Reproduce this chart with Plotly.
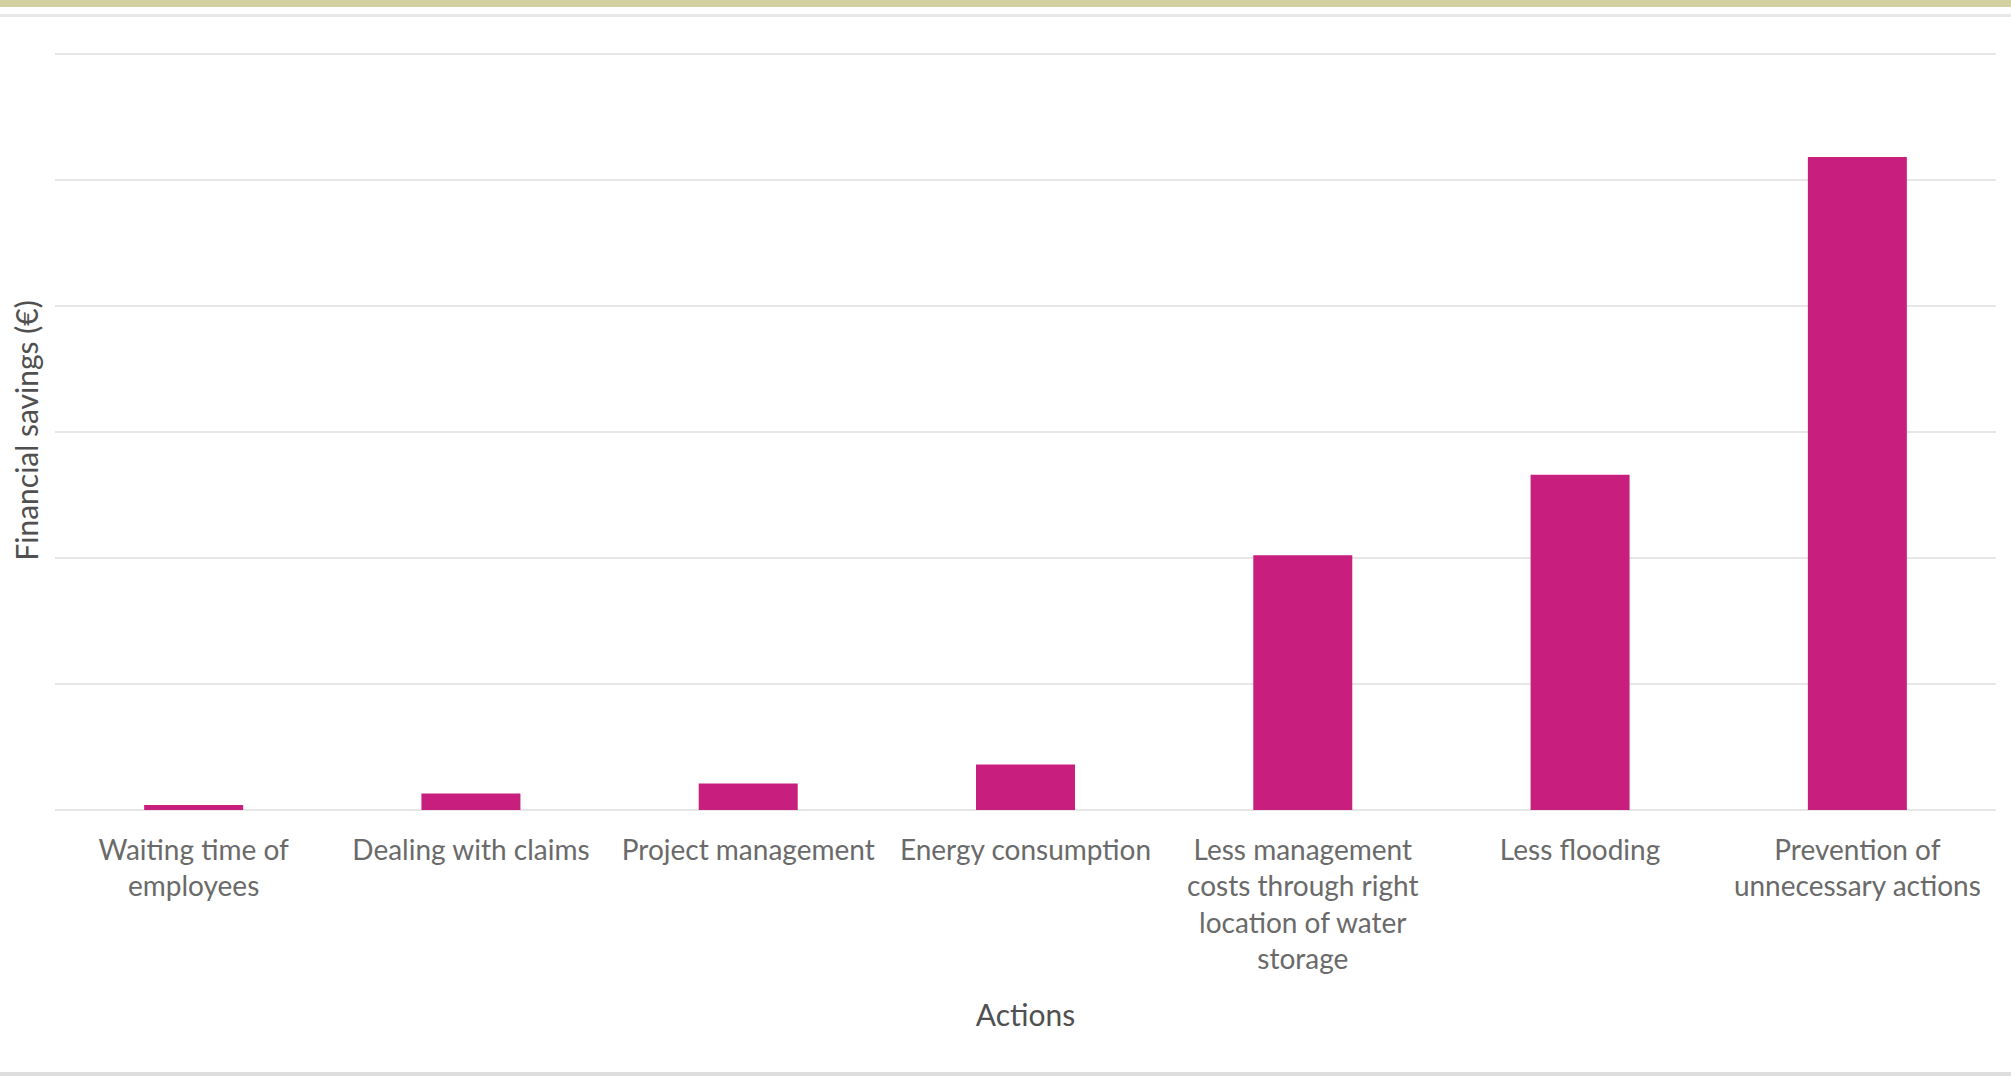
import plotly.graph_objects as go

categories = [
    "Waiting time of<br>employees",
    "Dealing with claims",
    "Project management",
    "Energy consumption",
    "Less management<br>costs through right<br>location of water<br>storage",
    "Less flooding",
    "Prevention of<br>unnecessary actions",
]
savings = [0.04, 0.13, 0.21, 0.36, 2.02, 2.66, 5.18]
grid_levels = [0, 1, 2, 3, 4, 5, 6]

W, H = 2011, 1078
L, R, T, B = 55, 15, 51, 268
pw, ph = W - L - R, H - T - B

def px_x(x):
    return (x - L) / pw

def px_y(y):
    return (H - B - y) / ph

FONT = "Lato, 'Liberation Sans Narrow', sans-serif"

fig = go.Figure(go.Bar(
    x=categories, y=savings,
    marker=dict(color="#C81E7E", line=dict(width=0)),
))

fig.update_layout(
    width=W, height=H,
    margin=dict(l=L, r=R, t=T, b=B, autoexpand=False),
    paper_bgcolor="white", plot_bgcolor="white",
    bargap=0.643,
    showlegend=False,
    font=dict(family=FONT, color="#595959", size=28),
    shapes=[
        dict(type="rect", xref="paper", yref="paper", x0=px_x(0), x1=px_x(W),
             y0=px_y(0), y1=px_y(7), fillcolor="#D3D0A0", line=dict(width=0), layer="above"),
        dict(type="rect", xref="paper", yref="paper", x0=px_x(0), x1=px_x(W),
             y0=px_y(14), y1=px_y(17), fillcolor="#E8E8E8", line=dict(width=0), layer="above"),
        dict(type="rect", xref="paper", yref="paper", x0=px_x(0), x1=px_x(W),
             y0=px_y(1072), y1=px_y(1076), fillcolor="#DEDEDE", line=dict(width=0), layer="above"),
    ],
)

fig.update_xaxes(
    showline=False, showgrid=False, ticks="",
    tickfont=dict(size=28, color="#6A6A6A", family=FONT),
    ticklabelstandoff=21,
    tickangle=0,
    title=dict(text="Actions", font=dict(size=30, color="#505050", family=FONT), standoff=30),
    automargin=False,
)
fig.update_yaxes(
    range=[0, 6.02], tickvals=grid_levels, showticklabels=False, ticks="",
    showgrid=True, gridcolor="#E6E6E6", gridwidth=2,
    zeroline=True, zerolinecolor="#E6E6E6", zerolinewidth=2,
    title=dict(text="Financial savings (€)", font=dict(size=30, color="#505050", family=FONT), standoff=6),
    automargin=False,
)

fig.write_html("out.html")
